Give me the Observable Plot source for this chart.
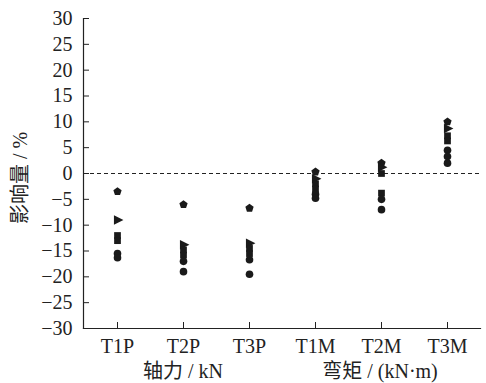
<!DOCTYPE html>
<html><head><meta charset="utf-8">
<script src="https://cdn.jsdelivr.net/npm/d3@7"></script>
<script src="https://cdn.jsdelivr.net/npm/@observablehq/plot@0.6"></script>
<style>
body{margin:0;background:#fff;}
#wrap{position:relative;width:486px;height:383px;overflow:hidden;}
</style></head>
<body><div id="wrap"></div>
<script>
const categories = ["T1P","T2P","T3P","T1M","T2M","T3M"];
const T1P = [-3.5, -9, -12, -13, -15.5, -16.3];
const T2P = [-6, -13.8, -14.8, -15.8, -17, -19];
const T3P = [-6.7, -13.5, -14.5, -15.5, -16.7, -19.5];
const T1M = [0.3, -1, -2, -3, -4, -4.8];
const T2M = [2, 1.2, 0, -3.8, -5, -7];
const T3M = [10, 8.7, 7.3, 6.3, 4.5, 3.3, 2];
const seriesNames = ["S1","S2","S3","S4","S5","S6","S7"];
const yTicks = [-30,-25,-20,-15,-10,-5,0,5,10,15,20,25,30];
const yLabel = "影响量 / %";
const groupLabels = ["轴力 / kN", "弯矩 / (kN·m)"];

const pentagon = {draw(ctx, size){const r=Math.sqrt(size/2.4);for(let i=0;i<5;i++){const a=-Math.PI/2+i*2*Math.PI/5;const x=r*Math.cos(a),y=r*Math.sin(a);i?ctx.lineTo(x,y):ctx.moveTo(x,y);}ctx.closePath();}};
const triRight = {draw(ctx, size){const r=Math.sqrt(size/1.3);ctx.moveTo(r,0);ctx.lineTo(-r*0.6,-r*0.8);ctx.lineTo(-r*0.6,r*0.8);ctx.closePath();}};
const symbolsRange = [pentagon, triRight, d3.symbolSquare, d3.symbolSquare, d3.symbolCircle, d3.symbolCircle, d3.symbolCircle];

const vals = {T1P,T2P,T3P,T1M,T2M,T3M};
const data = [];
categories.forEach(c => vals[c].forEach((v,i) => data.push({cat:c, value:v, series:seriesNames[i]})));

const chart = Plot.plot({
  width: 486, height: 383,
  marginLeft: 83, marginRight: 6, marginTop: 18, marginBottom: 55,
  style: {color: "#222", background: "#fff"},
  x: {type: "point", domain: categories, padding: 0.5, label: null},
  y: {domain: [-30, 30], label: null},
  symbol: {domain: seriesNames, range: symbolsRange},
  marks: [
    Plot.frame({anchor: "left", stroke: "#222", strokeWidth: 1.2}),
    Plot.frame({anchor: "bottom", stroke: "#222", strokeWidth: 1.2}),
    Plot.axisY({ticks: yTicks, tickSize: -6, tickPadding: 17, stroke: "#222", label: null}),
    Plot.axisX({tickSize: -6, tickPadding: 16, stroke: "#222", label: null}),
    Plot.ruleY([0], {stroke: "#222", strokeDasharray: "4,3", strokeWidth: 1.2}),
    Plot.dot(data, {x: "cat", y: "value", symbol: "series", fill: "#1a1a1a", r: 3.8})
  ]
});
const wrap = document.getElementById("wrap");
wrap.appendChild(chart);
d3.select(chart).selectAll("g, text").style("font-size", "20px").style("font-family", "'Liberation Serif','DejaVu Serif',serif");
d3.select(chart).selectAll("text").attr("fill", "#222");
const mk = (txt, css) => {const d=document.createElement("div");d.textContent=txt;d.style.cssText="position:absolute;font-family:'Liberation Serif','Noto Sans CJK SC',serif;font-size:20px;line-height:22px;color:#222;white-space:nowrap;"+css;wrap.appendChild(d);};
mk(yLabel, "left:20px;top:178px;transform:translate(-50%,-50%) rotate(-90deg);");
mk(groupLabels[0], "left:183px;top:360px;transform:translateX(-50%);");
mk(groupLabels[1], "left:380px;top:360px;transform:translateX(-50%);");
</script></body></html>
